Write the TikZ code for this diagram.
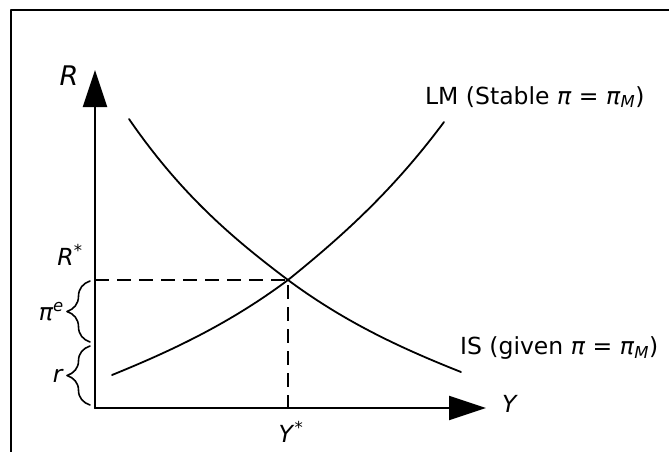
\documentclass[tikz,border=0pt]{standalone}
\usepackage{fontspec}
\setmainfont{DejaVu Sans}
\usetikzlibrary{arrows.meta,decorations.pathreplacing}

\begin{document}
\begin{tikzpicture}[x=1pt, y=-1pt, line width=1.6pt, line cap=round, line join=round,
        font=\fontsize{23.5}{28}\selectfont,
        axis/.style={line width=2.2pt, -{Triangle[length=37pt, width=24pt]}},
        curve/.style={line width=1.8pt},
        guide/.style={line width=1.8pt, dash pattern=on 14pt off 8pt, line cap=butt},
        bracket/.style={line width=1.6pt, decorate, decoration={brace, amplitude=23pt}}]

            \useasboundingbox (0,0) rectangle (669,452);

            % ==========================================
            % 1. Cornice
            % ==========================================
            \draw[line width=2pt, line cap=butt] (11,452) -- (11,10) -- (669,10);

            % ==========================================
            % 2. Assi
            % ==========================================
            \coordinate (O) at (95,408);
            \draw[axis] (O) -- (95,70) coordinate (Rtop);
            \draw[axis] (O) -- (486,408) coordinate (Yend);
            \node[font=\fontsize{27}{32}\selectfont] (Rlab) at (69,76) {\textit{R}};
            \node (Ylab) at (510,404) {\textit{Y}};

            % ==========================================
            % 3. Curve LM e IS
            % ==========================================
            \coordinate (E) at (288,280);
            \coordinate (LMa) at (112,375);
            \coordinate (LMb) at (444,122);
            \coordinate (ISa) at (129,119);
            \coordinate (ISb) at (461,372);

            \draw[curve] (LMa) .. controls (171,351) and (229,324) .. (E)
                               .. controls (340,238) and (392,192) .. (LMb);
            \draw[curve] (ISa) .. controls (182,196) and (235,240) .. (E)
                               .. controls (346,323) and (403,349) .. (ISb);

            \node[anchor=west] (LMlab) at (421,97)
                {LM (Stable \textit{π} = \textit{π}\textsubscript{\textit{M}})};
            \node[anchor=west] (ISlab) at (456,348)
                {IS (given \textit{π} = \textit{π}\textsubscript{\textit{M}})};

            % ==========================================
            % 4. Equilibrio
            % ==========================================
            \coordinate (Ra) at (95,280);
            \coordinate (Ya) at (288,408);
            \draw[guide] (Ra) -- (E) -- (Ya);
            \node (Rstar) at (70,255) {\textit{R}\textsuperscript{*}};
            \node (Ystar) at (291,432) {\textit{Y}\textsuperscript{*}};

            % ==========================================
            % 5. Parentesi graffe (r e pi^e)
            % ==========================================
            \draw[bracket] (90,342) -- (90,281) node[midway, left=22pt] (pie) {\textit{π}\textsuperscript{\textit{e}}};
            \draw[bracket] (90,405) -- (90,346) node[midway, left=22pt] (rlab) {\textit{r}};

        \end{tikzpicture}
\end{document}
